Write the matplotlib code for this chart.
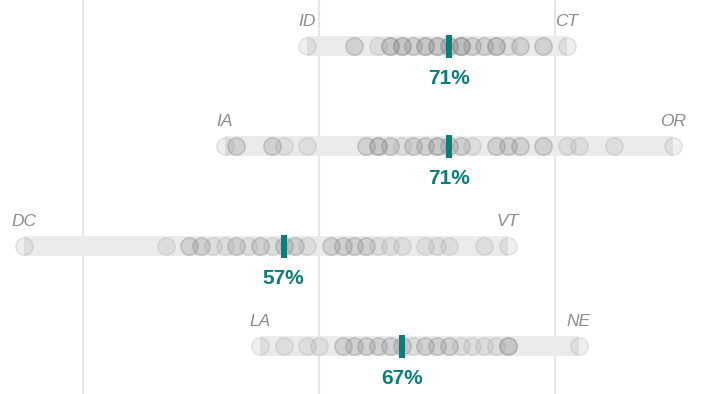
import matplotlib.pyplot as plt

# share of each state, one list per row (repeated values = overlapping states)
row_values = [
    [59, 63, 63, 65, 66, 66, 66, 67, 67, 67, 68, 68, 69, 69, 69, 70, 70, 70,
     71, 71, 71, 72, 72, 72, 72, 73, 73, 74, 74, 75, 75, 75, 76, 77, 77,
     79, 79, 81],
    [52, 53, 53, 56, 56, 57, 59, 64, 64, 65, 65, 65, 66, 66, 67, 68, 68,
     69, 69, 70, 70, 70, 71, 71, 72, 72, 73, 75, 75, 76, 76, 77, 77, 79, 79,
     81, 82, 85, 90],
    [35, 47, 49, 49, 50, 50, 51, 52, 53, 53, 54, 55, 55, 56, 57, 57, 58, 58,
     59, 61, 61, 62, 62, 63, 63, 64, 64, 65, 66, 67, 69, 70, 71, 74, 76],
    [55, 57, 59, 60, 62, 62, 63, 63, 64, 64, 65, 65, 66, 66, 67, 67, 68,
     69, 69, 70, 70, 71, 71, 72, 73, 74, 75, 76, 76, 76, 82],
]
medians = [71, 71, 57, 67]
low_states = ["ID", "IA", "DC", "LA"]
high_states = ["CT", "OR", "VT", "NE"]
grid_values = [40, 60, 80]

teal = "#0a7f7a"
font = "Liberation Sans"

fig = plt.figure(figsize=(7.01, 3.94), dpi=100)
ax = fig.add_axes([0, 0, 1, 1])
ax.set_xlim(32.97, 92.37)
ax.set_ylim(3.48, -0.46)
ax.axis("off")

for g in grid_values:
    ax.axvline(g, color="#e6e6e6", lw=1.5, zorder=0)

for i, vals in enumerate(row_values):
    lo, hi = min(vals), max(vals)
    ax.barh(i, hi - lo, left=lo, height=0.2, color="#ebebeb", zorder=1)
    ax.scatter(vals, [i] * len(vals), s=155,
               facecolor=(0.5, 0.5, 0.5, 0.12),
               edgecolor=(0.5, 0.5, 0.5, 0.17), lw=1.2, zorder=2)
    m = medians[i]
    ax.bar(m, 0.23, width=0.5, bottom=i - 0.115, color=teal, zorder=3)
    ax.text(m, i + 0.32, f"{m}%", ha="center", va="center", fontsize=15,
            fontweight="bold", color=teal, family=font)
    ax.text(lo, i - 0.245, low_states[i], ha="center", va="center",
            fontsize=12.5, style="italic", color="#8c8c8c", family=font)
    ax.text(hi, i - 0.245, high_states[i], ha="center", va="center",
            fontsize=12.5, style="italic", color="#8c8c8c", family=font)

fig.savefig("out.png", dpi=100)
